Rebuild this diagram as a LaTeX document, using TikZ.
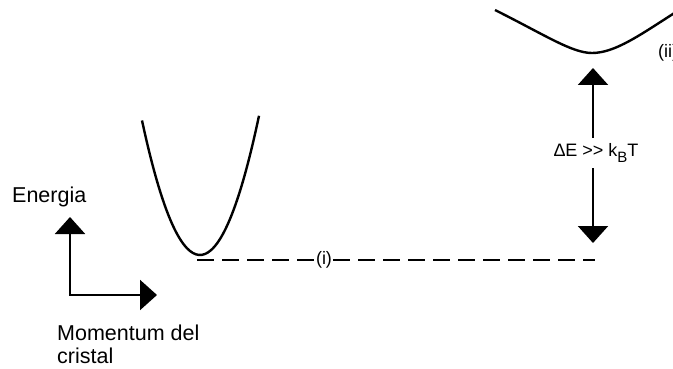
\documentclass[tikz,border=0pt]{standalone}
\usepackage{fontspec}
\setmainfont{Liberation Sans}
\usetikzlibrary{arrows.meta}

\begin{document}
\begin{tikzpicture}
	[x=1pt,y=-1pt,
	 band/.style={line width=2.4pt,line join=round},
	 bigtip/.style={-{Triangle[width=30pt,length=17pt]}},
	 axes/.style={line width=2.2pt,{Triangle[width=30pt,length=17pt]}-{Triangle[width=30pt,length=17pt]}},
	 level/.style={line width=2.2pt,dash pattern=on 17pt off 8pt},
	 lbl/.style={font=\fontsize{21.5}{23}\selectfont,inner sep=1pt},
	 small/.style={font=\fontsize{18}{20}\selectfont,inner sep=1pt}]
	\useasboundingbox (0,0) rectangle (673,369);

	% band with its minimum at (i)
	\draw[band] plot[domain=-58:59,smooth,samples=40] ({200+\x},{255-0.04*\x*\x});
	% band with its minimum at (ii)
	\draw[band] (495,10) .. controls (545,35) and (572,53) .. (592,53)
		.. controls (615,53) and (640,35) .. (676,12);
	\node[small,anchor=west] (ii) at (657,53) {(ii)};

	% level of (i)
	\coordinate (lvlA) at (197,260);
	\coordinate (lvlB) at (595,260);
	\node[small] (i) at (324,260) {(i)};
	\draw[level] (lvlA) -- (i.west);
	\draw[level] (i.east) -- (lvlB);

	% energy gap
	\coordinate (gapTop) at (593,68);
	\coordinate (gapBot) at (593,243);
	\node[small,minimum height=30pt] (gap) at (596,153) {Δ\kern-.5ptE >{}> k\raisebox{-.3em}{\fontsize{15}{15}\selectfont B}T};
	\draw[line width=2.2pt,bigtip] (gapTop |- gap.south) -- (gapBot);
	\draw[line width=2.2pt,bigtip] (gapTop |- gap.north) -- (gapTop);

	% axes
	\coordinate (origin) at (70,295);
	\coordinate (eTip) at (70,217);
	\coordinate (kTip) at (157,295);
	\draw[axes] (eTip) -- (origin) -- (kTip);
	\node[lbl,anchor=west] (energy) at (11,197) {Energia};
	\node[lbl,anchor=west,align=left] (momentum) at (56,344) {Momentum del\\cristal};
\end{tikzpicture}
\end{document}
